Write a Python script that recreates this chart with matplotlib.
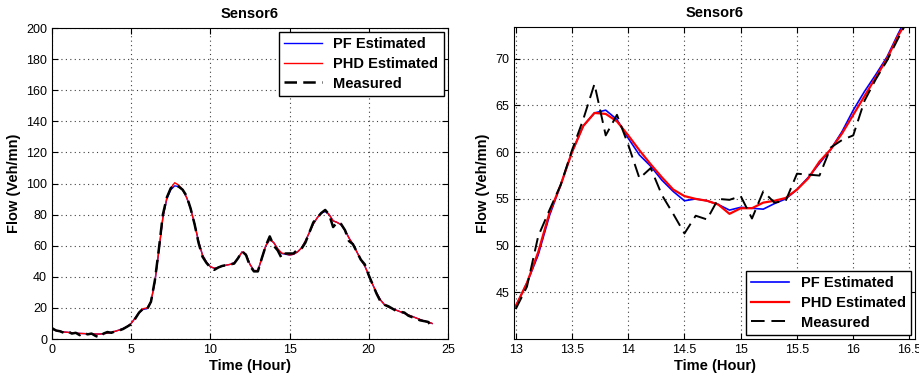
import numpy as np
import matplotlib.pyplot as plt

plt.rcParams['font.family'] = ['Liberation Sans', 'DejaVu Sans']

# full day (0.25 h steps)
t_day = np.arange(0, 24.01, 0.25)
meas_day = [7, 5.5, 5, 4, 5, 3.5, 4, 2.5, 4, 3, 3.5, 2, 1, 3.5, 4.5, 4,
            5, 5.5, 6.5, 8, 9.5, 13, 17, 19.5, 19, 24, 38, 58, 80, 91, 97, 99,
            98, 96, 92, 84, 74, 62, 53, 49, 46, 44.5, 46, 47, 47.5, 48, 48.5, 52,
            56.5, 54, 47, 43.5, 43.5, 52, 60, 66, 60, 57, 52, 55, 55, 55, 57.5, 58,
            62, 68.5, 75, 78, 81, 83, 80, 72, 75, 74, 70, 63, 61, 56, 51, 48,
            41, 35, 29, 24, 22, 21, 19.5, 18, 17.5, 17, 15, 14, 13, 12, 11.5, 11,
            7.5]
pf_day = [6.5, 5.5, 5, 4.5, 4.3, 4, 3.8, 3.6, 3.5, 3.4, 3.3, 3.2, 3.2, 3.4, 3.8, 4.3,
          5, 5.8, 6.8, 8, 10, 13.5, 17, 19, 19.5, 24, 37, 57, 78, 90, 96, 98.5,
          98, 96, 91, 84, 74, 63, 54, 49.5, 46.5, 45.5, 46, 47, 47.5, 48, 49, 52,
          56, 54.5, 48, 44, 44, 52, 60, 64, 62, 58, 55, 54.5, 54, 54.5, 56, 58.5,
          63, 68.5, 74, 78, 81, 82, 80, 76, 75, 73.5, 70, 65, 61, 56, 51, 47,
          41, 35, 29.5, 25, 22, 20.5, 19.5, 18.5, 17.5, 16.5, 15.5, 14.5, 13.5, 12.5, 11.5, 11,
          10]
phd_day = [6.5, 5.5, 5, 4.5, 4.3, 4, 3.8, 3.6, 3.5, 3.4, 3.3, 3.2, 3.2, 3.4, 3.8, 4.3,
           5, 5.8, 6.8, 8, 10, 13.5, 17, 19.5, 20, 24, 37, 57, 78, 91, 97, 100.5,
           99, 96, 91, 84, 74, 63, 54, 49.5, 46.5, 45.5, 46, 47, 47.5, 48, 49, 52,
           56, 54.5, 48, 44, 44, 52, 60, 64, 62, 58, 55.3, 54.8, 54, 54.5, 56, 58.5,
           63, 68.5, 74, 78, 81, 82.5, 80, 76, 75, 73.5, 70, 65, 61, 56, 51, 47,
           41, 35, 29.5, 25, 22, 20.5, 19.5, 18.5, 17.5, 16.5, 15.5, 14.5, 13.5, 12.5, 11.5, 11,
           10]

# zoom window 13 - 16.5 h (0.1 h steps)
t_zoom = np.round(np.arange(13, 16.51, 0.1), 1)
meas_zoom = [43.2, 45.6, 51, 53.8, 56.5, 60.2, 63.5, 67.3, 61.8, 64.0,
             60.8, 57.2, 58.3, 55.4, 53.4, 51.3, 53.2, 52.8, 55.0, 54.9,
             55.3, 52.9, 55.8, 54.6, 54.8, 57.7, 57.6, 57.5, 60.5, 61.3,
             61.8, 65.5, 67.8, 69.8, 72.2, 74.5]
pf_zoom = [43.5, 46.0, 49.0, 53.2, 56.5, 60.0, 62.8, 64.2, 64.5, 63.5,
           61.5, 59.7, 58.5, 57.0, 55.8, 54.8, 55.0, 54.8, 54.4, 53.8,
           54.1, 54.0, 53.9, 54.5, 55.0, 56.0, 57.3, 58.8, 60.3, 62.2,
           64.5, 66.5, 68.3, 70.2, 72.7, 75.0]
phd_zoom = [43.5, 46.0, 49.3, 53.5, 56.5, 60.0, 62.8, 64.2, 64.1, 63.3,
            61.8, 60.2, 58.7, 57.3, 56.0, 55.3, 55.0, 54.8, 54.4, 53.4,
            54.0, 54.0, 54.6, 54.8, 55.1, 56.0, 57.2, 59.0, 60.3, 62.0,
            64.0, 66.0, 68.0, 70.0, 72.5, 74.5]

fig = plt.figure(figsize=(9.2, 3.79), dpi=100)
ax1 = fig.add_axes([0.0565, 0.1055, 0.4304, 0.8206])
ax2 = fig.add_axes([0.5587, 0.1055, 0.436, 0.8232])

ax1.plot(t_day, pf_day, color='blue', lw=1.0, label='PF Estimated')
ax1.plot(t_day, phd_day, color='red', lw=1.0, label='PHD Estimated')
ax1.plot(t_day, meas_day, color='black', lw=1.8, ls=(0, (5, 2.5)), label='Measured')
ax1.set_xlim(0, 25)
ax1.set_ylim(0, 200)
ax1.set_xticks(range(0, 26, 5))
ax1.set_yticks(range(0, 201, 20))

ax2.plot(t_zoom, pf_zoom, color='blue', lw=1.2, label='PF Estimated')
ax2.plot(t_zoom, phd_zoom, color='red', lw=1.6, label='PHD Estimated')
ax2.plot(t_zoom, meas_zoom, color='black', lw=1.4, ls=(0, (7, 3.5)), label='Measured')
ax2.set_xlim(12.985, 16.55)
ax2.set_ylim(40, 73.4)
ax2.set_xticks([13, 13.5, 14, 14.5, 15, 15.5, 16, 16.5])
ax2.set_xticklabels(['13', '13.5', '14', '14.5', '15', '15.5', '16', '16.5'])
ax2.set_yticks(range(45, 71, 5))

for ax, loc in [(ax1, 'upper right'), (ax2, 'lower right')]:
    ax.set_title('Sensor6', fontsize=10.5, fontweight='bold', pad=7)
    ax.set_xlabel('Time (Hour)', fontsize=10.5, fontweight='bold', labelpad=2)
    ax.set_ylabel('Flow (Veh/mn)', fontsize=10.5, fontweight='bold', labelpad=4)
    ax.grid(True, color='0.25', ls=(0, (1, 3)), lw=0.8)
    ax.tick_params(direction='in', top=True, right=True, labelsize=9, length=4)
    leg = ax.legend(loc=loc, fancybox=False, framealpha=1, edgecolor='black',
                    prop={'weight': 'bold', 'size': 10.5}, handlelength=2.6,
                    borderaxespad=0.3, labelspacing=0.38, borderpad=0.35)
    leg.get_frame().set_linewidth(1.0)

fig.savefig('out.png', dpi=100)
